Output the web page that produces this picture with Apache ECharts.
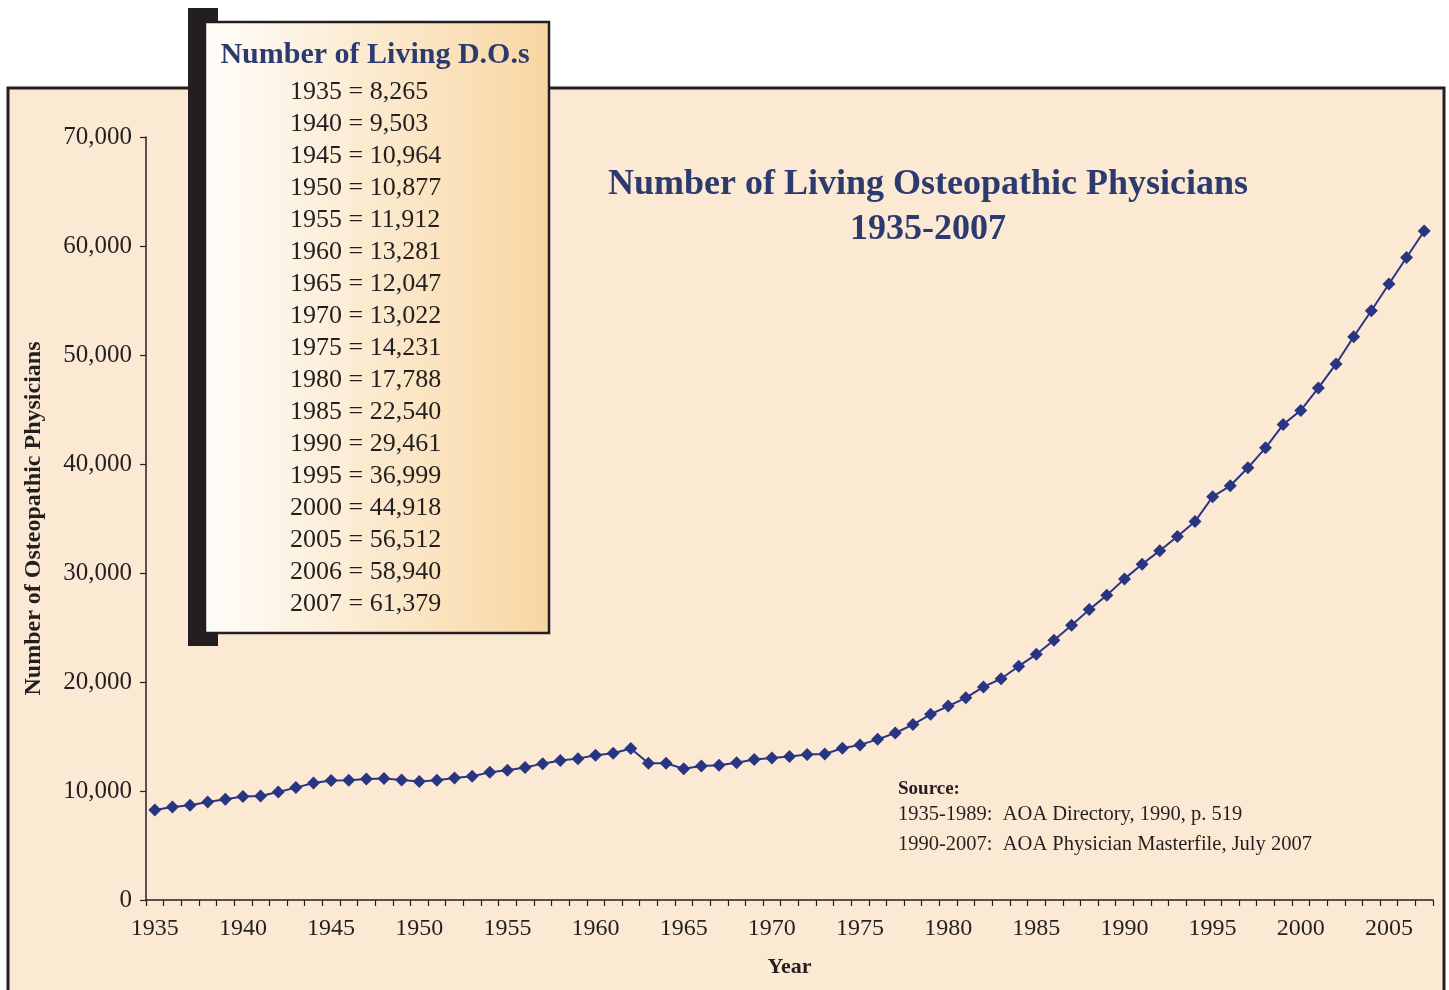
<!DOCTYPE html>
<html>
<head>
<meta charset="utf-8">
<title>Number of Living Osteopathic Physicians</title>
<script src="https://cdn.jsdelivr.net/npm/echarts@6/dist/echarts.min.js"></script>
<style>
  html, body { margin: 0; padding: 0; background: #fff; }
  #chart { width: 1449px; height: 990px; }
</style>
</head>
<body>
<div id="chart"></div>
<script>
// years on the x axis
const years = []
for (let y = 1935; y <= 2007; y++) years.push(String(y))

// living D.O.s per year (table values where given)
const physicians = [
  8265, 8530, 8690, 8990, 9240, 9503, 9540, 9900, 10310, 10730,
  10964, 10980, 11100, 11140, 11010, 10877, 10980, 11190, 11350, 11710,
  11912, 12150, 12510, 12790, 12970, 13281, 13460, 13900, 12540, 12540,
  12047, 12300, 12360, 12600, 12880, 13022, 13160, 13340, 13400, 13920,
  14231, 14740, 15320, 16090, 17040, 17788, 18550, 19550, 20300, 21450,
  22540, 23830, 25200, 26640, 27950, 29461, 30800, 32050, 33350, 34720,
  36999, 38000, 39650, 41480, 43620, 44918, 46980, 49180, 51680, 54060,
  56512, 58940, 61379
]

// the inset table
const tableYears = ['1935', '1940', '1945', '1950', '1955', '1960', '1965', '1970', '1975',
  '1980', '1985', '1990', '1995', '2000', '2005', '2006', '2007']
const tableValues = ['8,265', '9,503', '10,964', '10,877', '11,912', '13,281', '12,047', '13,022',
  '14,231', '17,788', '22,540', '29,461', '36,999', '44,918', '56,512', '58,940', '61,379']

const titleLines = ['Number of Living Osteopathic Physicians', '1935-2007']
const sourceLines = [
  '1935-1989:  AOA Directory, 1990, p. 519',
  '1990-2007:  AOA Physician Masterfile, July 2007'
]

const FONT = '"Liberation Serif", "DejaVu Serif", serif'
const NAVY = '#2c3b6f'
const INK = '#231f20'

function buildGraphics() {
  const els = [
    // beige panel behind the plot
    {
      type: 'rect', z: -10, silent: true,
      shape: { x: 8, y: 88, width: 1436, height: 920 },
      style: { fill: '#fce9d3', stroke: INK, lineWidth: 3 }
    },
    // dark bar behind the inset box
    {
      type: 'rect', z: 50, silent: true,
      shape: { x: 188, y: 8, width: 30, height: 638 },
      style: { fill: INK }
    },
    // inset box
    {
      type: 'rect', z: 51, silent: true,
      shape: { x: 205, y: 22, width: 344, height: 611 },
      style: {
        fill: new echarts.graphic.LinearGradient(0, 0, 1, 0, [
          { offset: 0, color: '#fffdfa' },
          { offset: 1, color: '#f8d6a2' }
        ]),
        stroke: INK, lineWidth: 2.5
      }
    },
    {
      type: 'text', z: 52, silent: true,
      x: 375, y: 55,
      style: {
        text: 'Number of Living D.O.s', font: 'bold 30px ' + FONT, fill: NAVY,
        align: 'center', verticalAlign: 'middle'
      }
    },
    {
      type: 'text', z: 52, silent: true,
      x: 898, y: 789,
      style: { text: 'Source:', font: 'bold 19px ' + FONT, fill: INK, verticalAlign: 'middle' }
    }
  ]

  titleLines.forEach((line, i) => {
    els.push({
      type: 'text', z: 52, silent: true,
      x: 928, y: 185 + i * 45,
      style: {
        text: line, font: 'bold 36px ' + FONT, fill: NAVY,
        align: 'center', verticalAlign: 'middle'
      }
    })
  })

  tableYears.forEach((yr, i) => {
    els.push({
      type: 'text', z: 52, silent: true,
      x: 290, y: 92 + i * 32,
      style: {
        text: yr + ' = ' + tableValues[i], font: '26px ' + FONT, fill: INK,
        verticalAlign: 'middle'
      }
    })
  })

  sourceLines.forEach((line, i) => {
    els.push({
      type: 'text', z: 52, silent: true,
      x: 898, y: 815 + i * 30,
      style: { text: line, font: '20.5px ' + FONT, fill: INK, verticalAlign: 'middle' }
    })
  })
  return els
}

function getOption() {
  return {
    backgroundColor: '#fff',
    animation: false,
    textStyle: { fontFamily: FONT },
    grid: { left: 146, right: 16, top: 137, bottom: 90, containLabel: false },
    xAxis: {
      type: 'category',
      data: years,
      boundaryGap: true,
      name: 'Year',
      nameLocation: 'middle',
      nameGap: 56,
      nameTextStyle: { fontFamily: FONT, fontWeight: 'bold', fontSize: 22, color: INK },
      axisLine: { lineStyle: { color: INK, width: 1.5 } },
      axisTick: { show: true, interval: 0, length: 6, lineStyle: { color: INK, width: 1.2 } },
      axisLabel: { interval: 4, margin: 17, fontFamily: FONT, fontSize: 24, color: INK },
      splitLine: { show: false }
    },
    yAxis: {
      type: 'value',
      min: 0,
      max: 70000,
      interval: 10000,
      name: 'Number of Osteopathic Physicians',
      nameLocation: 'middle',
      nameGap: 100,
      nameTextStyle: { fontFamily: FONT, fontWeight: 'bold', fontSize: 24, color: INK },
      axisLine: { show: true, lineStyle: { color: INK, width: 1.5 } },
      axisTick: { show: true, length: 6, lineStyle: { color: INK, width: 1.2 } },
      axisLabel: {
        margin: 14, fontFamily: FONT, fontSize: 25, color: INK,
        formatter: v => v.toLocaleString('en-US')
      },
      splitLine: { show: false }
    },
    series: [{
      name: 'Living D.O.s',
      type: 'line',
      data: physicians,
      symbol: 'diamond',
      symbolSize: 13,
      showAllSymbol: true,
      lineStyle: { color: '#2b3584', width: 2 },
      itemStyle: { color: '#283583' }
    }],
    graphic: buildGraphics()
  }
}

const chart = echarts.init(document.getElementById('chart'), null, { renderer: 'canvas' })
chart.setOption(getOption())
</script>
</body>
</html>
